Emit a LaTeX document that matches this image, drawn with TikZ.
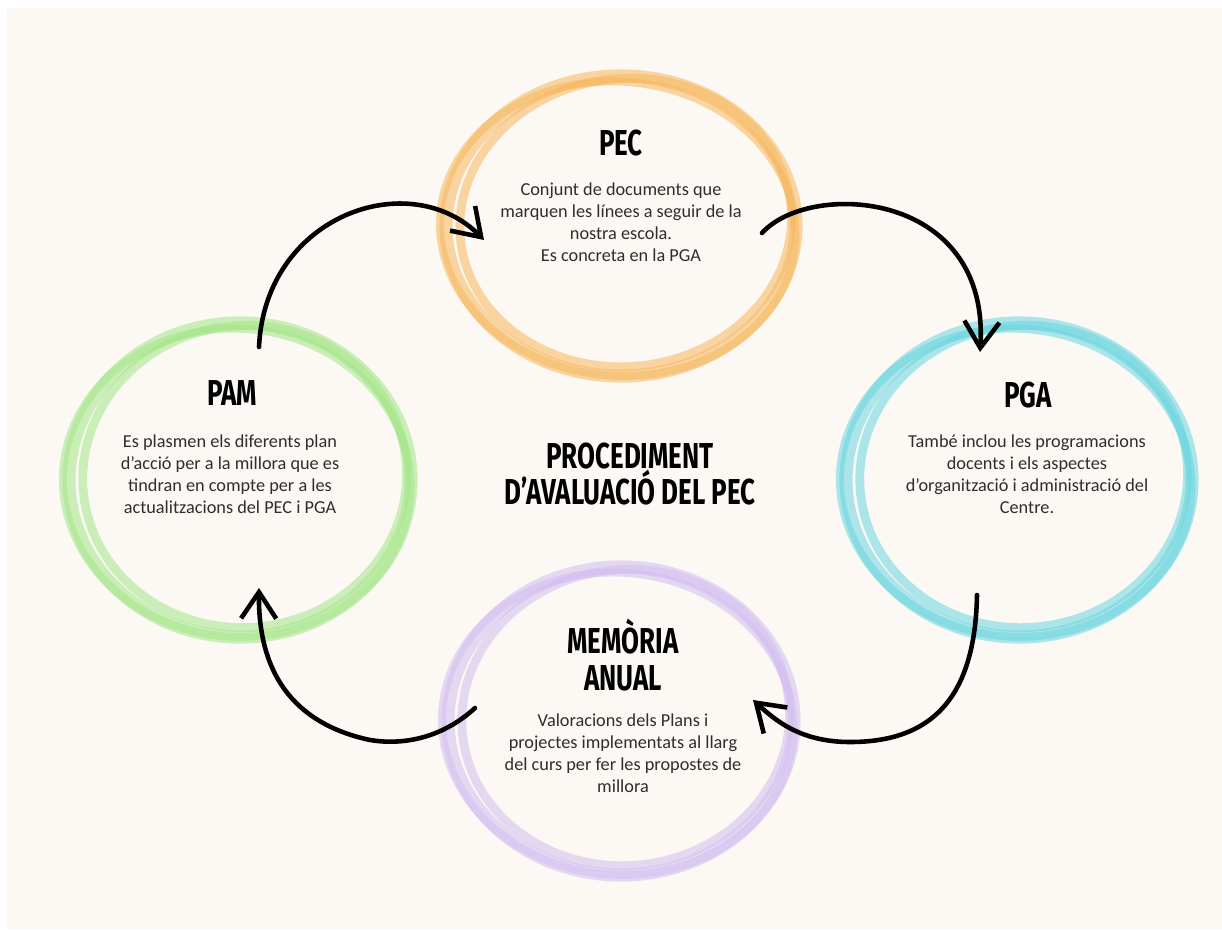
\documentclass[tikz,border=0pt]{standalone}
\usepackage{fontspec}
\setmainfont{Carlito}
\newfontfamily\headfont[FakeStretch=0.72]{Fira Sans}
\usetikzlibrary{arrows.meta,calc}
\definecolor{paper}{HTML}{FCF9F4}
\definecolor{pecOrange}{HTML}{F7B75E}
\definecolor{pgaCyan}{HTML}{6AD6E0}
\definecolor{pamGreen}{HTML}{A3E688}
\definecolor{memPurple}{HTML}{D2BEF0}
\definecolor{txtGray}{HTML}{2E2E2E}
\begin{document}
\begin{tikzpicture}[x=0.02cm, y=-0.02cm,
	ring/.style={draw=#1, opacity=0.55},
	title/.style={font=\headfont\bfseries\fontsize{20.5}{21.5}\selectfont, align=center, text=black, inner sep=0pt},
	body/.style={font=\fontsize{10.4}{12.5}\selectfont, align=center, text=txtGray, inner sep=0pt},
	arrow/.style={line width=2.6pt, line cap=round, line join=round, -{Straight Barb[length=15pt, width=20pt]}}]
	\useasboundingbox (0,0) rectangle (1222,929);
	\fill[white] (0,0) rectangle (1222,929);
	\fill[paper] (7,8) rectangle (1222,929);
	% circle centres
	\coordinate (pec) at (621, 226);
	\coordinate (pga) at (1019, 480);
	\coordinate (pam) at (240, 480);
	\coordinate (mem) at (621, 721);
	% hand drawn rings
	\foreach \c/\col/\rx/\ry in {pec/pecOrange/175/150, pga/pgaCyan/173/157, pam/pamGreen/171/157, mem/memPurple/173/154}{
		\foreach \dx/\dy/\drx/\dry/\rot/\lw in {0/0/0/0/0/7.5, 5/-3/-9/-6/6/5, -3/3/3/-3/-5/4.5}{
			\draw[ring=\col, line width=\lw pt, rotate around={\rot:(\c)}] ($(\c)+(\dx,\dy)$) ellipse [x radius=\rx+\drx, y radius=\ry+\dry];
		}
	}
	% titles
	\node[title] (pecTitle) at (621, 143) {PEC};
	\node[title] (pgaTitle) at (1028, 395) {PGA};
	\node[title] (pamTitle) at (232, 393) {PAM};
	\node[title] (memTitle) at (623, 655) {MEMÒRIA\\ANUAL};
	\node[title, font=\headfont\bfseries\fontsize{20.5}{17.6}\selectfont] (main) at (630, 474) {PROCEDIMENT\\D’AVALUACIÓ DEL PEC};
	% texts
	\node[body] (pecText) at (621, 222) {Conjunt de documents que\\marquen les línees a seguir de la\\nostra escola.\\Es concreta en la PGA};
	\node[body] (pgaText) at (1027, 474) {També inclou les programacions\\docents i els aspectes\\d’organització i administració del\\Centre.};
	\node[body] (pamText) at (230, 474) {Es plasmen els diferents plan\\d’acció per a la millora que es\\tindran en compte per a les\\actualitzacions del PEC i PGA};
	\node[body] (memText) at (623, 753) {Valoracions dels Plans i\\projectes implementats al llarg\\del curs per fer les propostes de\\millora};
	% arrows
	\coordinate (pamOut) at ($(pam)+(19,-133)$);
	\coordinate (pecIn) at ($(pec)+(-137,14)$);
	\coordinate (pecOut) at ($(pec)+(141,7)$);
	\coordinate (pgaIn) at ($(pga)+(-39,-128)$);
	\coordinate (pgaOut) at ($(pga)+(-42,115)$);
	\coordinate (memIn) at ($(mem)+(132,-21)$);
	\coordinate (memOut) at ($(mem)+(-146,-13)$);
	\coordinate (pamIn) at ($(pam)+(19,108)$);
	\draw[arrow] (pamOut) .. controls (265,215) and (410,165) .. (pecIn);
	\draw[arrow] (pecOut) .. controls (810,180) and (990,190) .. (pgaIn);
	\draw[arrow] (pgaOut) .. controls (975,700) and (930,742) .. (850,742) .. controls (800,742) and (775,720) .. (memIn);
	\draw[arrow] (memOut) .. controls (440,740) and (400,745) .. (370,740) .. controls (300,725) and (258,680) .. (pamIn);
\end{tikzpicture}
\end{document}
